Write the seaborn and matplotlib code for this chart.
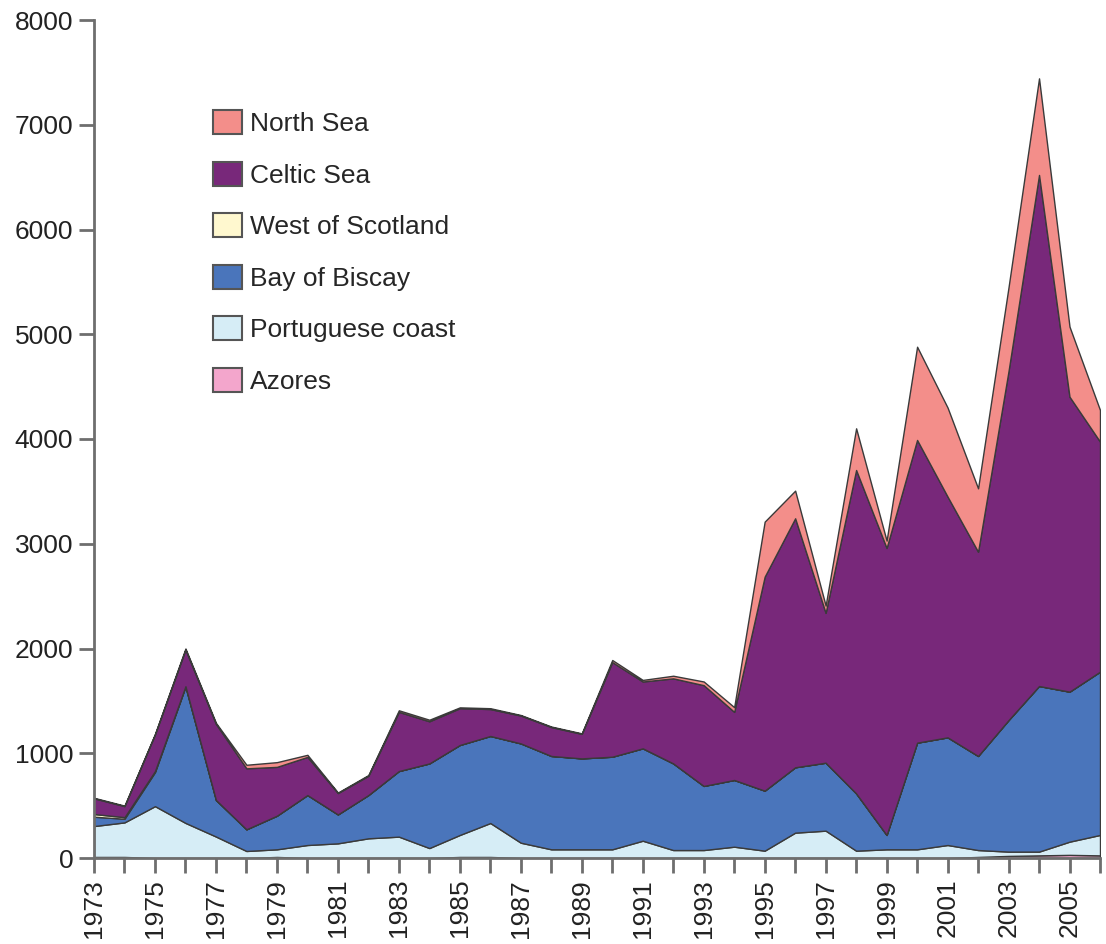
import numpy as np
import pandas as pd
import matplotlib
matplotlib.use("Agg")
import matplotlib.pyplot as plt
import seaborn as sns

years = list(range(1973, 2007))

azores = [10, 10, 0, 0, 0, 0, 10, 0, 0, 0, 0, 0, 10, 10, 0, 0, 0, 0, 0, 0,
          0, 0, 0, 0, 0, 0, 0, 0, 0, 10, 20, 25, 30, 25]
portuguese_coast = [295, 330, 495, 335, 205, 67, 73, 124, 140, 188, 204, 95, 210, 324,
                    146, 83, 83, 83, 165, 76, 76, 108, 70, 242, 261, 70, 83, 83,
                    124, 66, 41, 36, 126, 195]
bay_of_biscay = [89, 35, 325, 1301, 349, 207, 321, 477, 276, 413, 626, 808, 859, 831,
                 948, 891, 868, 884, 882, 827, 612, 637, 573, 624, 649, 547, 137, 1018,
                 1028, 898, 1256, 1581, 1432, 1559]
west_of_scotland = [26, 15, 10, 4, 0, 0, 0, 0, 0, 0, 0, 0, 0, 0,
                    0, 0, 0, 0, 0, 0, 0, 0, 0, 0, 0, 0, 0, 0,
                    0, 0, 0, 0, 0, 0]
celtic_sea = [150, 105, 350, 350, 726, 582, 466, 364, 204, 184, 565, 402, 351, 257,
              266, 276, 234, 903, 638, 812, 962, 650, 2043, 2377, 1430, 3087, 2740, 2890,
              2298, 1950, 3333, 4879, 2816, 2196]
north_sea = [5, 5, 5, 10, 10, 34, 45, 20, 5, 7, 15, 15, 8, 8,
             5, 5, 5, 20, 15, 25, 35, 45, 525, 264, 70, 398, 70, 890,
             850, 605, 800, 922, 669, 302]

regions = ["Azores", "Portuguese coast", "Bay of Biscay",
           "West of Scotland", "Celtic Sea", "North Sea"]
colors = ["#F3A6CC", "#D6EDF6", "#4A75BB", "#FFF8CF", "#78287A", "#F38E8A"]

df = pd.DataFrame({
    "Azores": azores,
    "Portuguese coast": portuguese_coast,
    "Bay of Biscay": bay_of_biscay,
    "West of Scotland": west_of_scotland,
    "Celtic Sea": celtic_sea,
    "North Sea": north_sea,
}, index=years)

sns.set_style("ticks")
plt.rcParams["font.family"] = ["Liberation Sans", "DejaVu Sans"]

fig = plt.figure(figsize=(11.06, 9.44), dpi=100)
ax = fig.add_axes([94 / 1106, 1 - 858 / 944, (1100 - 94) / 1106, (858 - 20) / 944])

ax.stackplot(df.index, [df[r].values for r in regions], labels=regions,
             colors=colors, edgecolor="#3a3a3a", linewidth=1.0)

ax.set_xlim(1973, 2006)
ax.set_ylim(0, 8000)
ax.set_yticks(range(0, 8001, 1000))
ax.set_xticks(years)
ax.set_xticklabels([str(y) if (y - 1973) % 2 == 0 else "" for y in years],
                   rotation=90)

sns.despine(ax=ax)
for side in ("left", "bottom"):
    ax.spines[side].set_color("#6e6e6e")
    ax.spines[side].set_linewidth(2)
ax.tick_params(axis="both", colors="#6e6e6e", width=2, length=11,
               labelsize=19, labelcolor="#222222", pad=4)

handles, labels = ax.get_legend_handles_labels()
leg = fig.legend(handles[::-1], labels[::-1], loc="upper left",
                 bbox_to_anchor=(213 / 1106, 1 - 110 / 944), frameon=False,
                 fontsize=19, handlelength=1.1, handleheight=1.02,
                 handletextpad=0.3, labelspacing=0.97, borderpad=0,
                 borderaxespad=0)
for p in leg.get_patches():
    p.set_edgecolor("#555555")
    p.set_linewidth(1.5)

fig.savefig("out.png", dpi=100)
